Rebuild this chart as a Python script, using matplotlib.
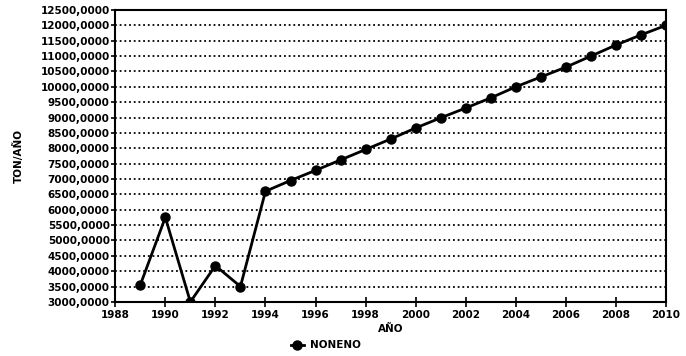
import matplotlib.pyplot as plt
from matplotlib.ticker import FuncFormatter

years = [1989, 1990, 1991, 1992, 1993, 1994, 1995, 1996, 1997, 1998, 1999,
         2000, 2001, 2002, 2003, 2004, 2005, 2006, 2007, 2008, 2009, 2010]
noneno = [3550, 5750, 3000, 4180, 3500, 6600, 6950, 7280, 7620, 7960, 8300,
          8660, 8990, 9310, 9640, 10000, 10320, 10640, 11000, 11360, 11690, 12000]

plt.rcParams['font.family'] = 'DejaVu Sans'
plt.rcParams['font.weight'] = 'bold'

fig = plt.figure(figsize=(6.86, 3.56), dpi=100)
ax = fig.add_axes([0.168, 0.152, 0.803, 0.82])

ax.plot(years, noneno, color='black', linewidth=2.0, marker='o',
        markersize=6.5, label='NONENO')

ax.set_xlim(1988, 2010)
ax.set_ylim(3000, 12500)
ax.set_xticks(range(1988, 2011, 2))
ax.set_yticks(range(3000, 12501, 500))
ax.yaxis.set_major_formatter(FuncFormatter(lambda v, p: ('%.4f' % v).replace('.', ',')))

ax.grid(axis='y', color='black', linestyle=(0, (1, 1.6)), linewidth=1.3)
for s in ax.spines.values():
    s.set_linewidth(1.5)
ax.tick_params(axis='y', direction='out', length=3, width=1.2, labelsize=7.5, pad=1)
ax.tick_params(axis='x', direction='inout', length=7, width=1.2, labelsize=7.5, pad=2)

ax.set_xlabel('AÑO', fontsize=7.5, fontweight='bold', labelpad=3)
ax.set_ylabel('TON/AÑO', fontsize=7.5, fontweight='bold', labelpad=12)

fig.legend(loc='center', bbox_to_anchor=(0.475, 0.03), frameon=False,
           fontsize=7.5, handlelength=1.2, handletextpad=0.6)

plt.savefig('out.png', dpi=100)
